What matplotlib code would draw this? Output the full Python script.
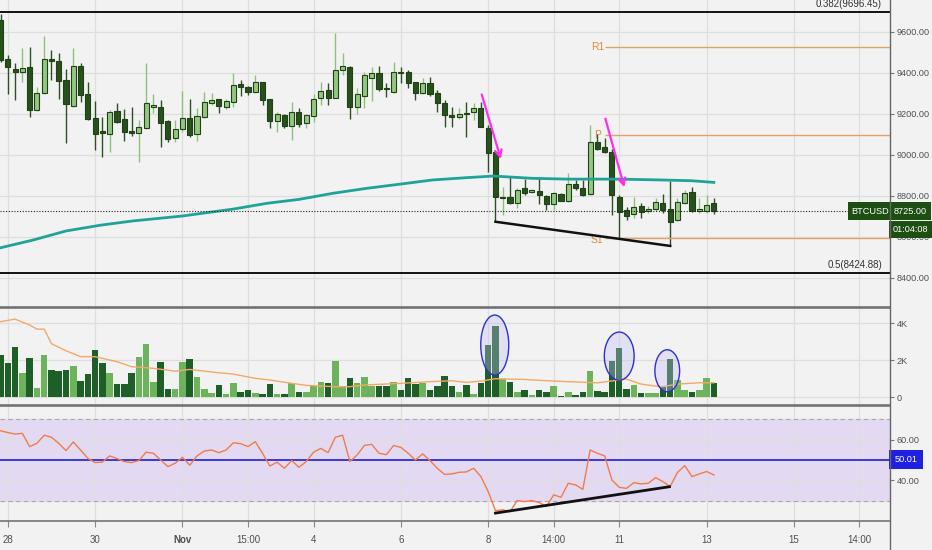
import matplotlib.pyplot as plt
from matplotlib.patches import Ellipse
from matplotlib.lines import Line2D
import numpy as np

plt.rcParams['font.family'] = ['Liberation Sans', 'DejaVu Sans']

# 4h candles, BTCUSD, Oct 27 20:00 .. Nov 13
opens = [9657, 9465, 9419, 9402, 9429, 9218, 9299, 9465, 9459, 9364,
         9238, 9434, 9296, 9180, 9116, 9101, 9215, 9174, 9114, 9107,
         9129, 9234, 9234, 9164, 9080, 9124, 9180, 9099, 9182, 9252,
         9273, 9234, 9259, 9343, 9329, 9307, 9355, 9270, 9166, 9194,
         9140, 9210, 9153, 9190, 9278, 9316, 9278, 9413, 9429, 9231,
         9286, 9373, 9397, 9327, 9307, 9405, 9402, 9355, 9302, 9348,
         9299, 9254, 9194, 9185, 9204, 9210, 9226, 9129, 9015, 8790,
         8795, 8763, 8836, 8818, 8823, 8799, 8760, 8808, 8776, 8857,
         8839, 8807, 9063, 9036, 9015, 8795, 8730, 8709, 8750, 8725,
         8734, 8763, 8734, 8681, 8763, 8820, 8725, 8725, 8763]
highs = [9686, 9486, 9449, 9519, 9524, 9332, 9579, 9511, 9495, 9417,
         9519, 9446, 9353, 9262, 9185, 9218, 9251, 9221, 9231, 9169,
         9446, 9296, 9267, 9169, 9169, 9312, 9270, 9226, 9307, 9299,
         9273, 9270, 9400, 9364, 9335, 9389, 9356, 9273, 9210, 9197,
         9259, 9226, 9197, 9296, 9356, 9351, 9592, 9495, 9433, 9324,
         9405, 9429, 9434, 9348, 9454, 9429, 9413, 9356, 9373, 9380,
         9316, 9267, 9231, 9226, 9259, 9251, 9259, 9145, 9023, 8844,
         8890, 8836, 8881, 8834, 8885, 8803, 8820, 8813, 8909, 8877,
         8877, 9145, 9101, 9080, 9028, 8803, 8746, 8792, 8763, 8750,
         8787, 8808, 8872, 8789, 8828, 8841, 8787, 8803, 8787]
lows = [9452, 9296, 9267, 9356, 9185, 9215, 9296, 9364, 9272, 9056,
        9234, 9259, 9169, 9023, 8990, 9015, 9153, 9068, 9093, 8966,
        9125, 9205, 9039, 9063, 9063, 9112, 9088, 9068, 9178, 9242,
        9205, 9221, 9231, 9286, 9291, 9302, 9242, 9129, 9112, 9129,
        9072, 9137, 9129, 9161, 9242, 9242, 9275, 9389, 9173, 9198,
        9226, 9263, 9312, 9280, 9302, 9348, 9324, 9267, 9296, 9286,
        9210, 9137, 9137, 9174, 9088, 9169, 9134, 8917, 8673, 8706,
        8760, 8739, 8803, 8812, 8760, 8730, 8730, 8774, 8771, 8828,
        8799, 8803, 9023, 9007, 8706, 8592, 8681, 8690, 8690, 8716,
        8727, 8717, 8555, 8678, 8760, 8722, 8716, 8714, 8711]
closes = [9462, 9426, 9402, 9424, 9218, 9299, 9465, 9456, 9361, 9247,
          9434, 9291, 9173, 9101, 9104, 9210, 9161, 9112, 9104, 9134,
          9251, 9242, 9153, 9077, 9124, 9178, 9096, 9189, 9256, 9267,
          9238, 9260, 9339, 9332, 9306, 9353, 9267, 9166, 9199, 9140,
          9210, 9150, 9194, 9273, 9311, 9278, 9413, 9434, 9234, 9296,
          9389, 9397, 9320, 9319, 9402, 9397, 9351, 9299, 9348, 9296,
          9254, 9194, 9185, 9199, 9197, 9226, 9137, 9010, 8795, 8795,
          8763, 8828, 8815, 8828, 8803, 8760, 8815, 8776, 8857, 8836,
          8803, 9060, 9026, 9012, 8803, 8720, 8702, 8743, 8722, 8735,
          8769, 8730, 8670, 8771, 8815, 8727, 8737, 8755, 8725]
volumes = [2290, 1870, 2700, 1330, 2110, 500, 2270, 1490, 1440, 1490,
           1670, 900, 1280, 2560, 1840, 1330, 720, 720, 1330, 2160,
           2880, 850, 1930, 430, 430, 1890, 2050, 1100, 430, 220,
           650, 160, 760, 270, 400, 220, 160, 720, 200, 200,
           760, 270, 270, 610, 830, 770, 1940, 560, 1040, 770,
           1100, 610, 610, 610, 830, 400, 1040, 720, 790, 400,
           610, 1150, 610, 290, 650, 160, 760, 2830, 3870, 970,
           850, 270, 400, 110, 400, 270, 610, 70, 270, 110,
           270, 1440, 320, 270, 1940, 2650, 430, 650, 220, 220,
           220, 540, 2050, 920, 400, 290, 400, 1040, 790]
rsi = [64.4, 63.5, 62.8, 63.1, 56.6, 58.2, 62.2, 61.2, 58.2, 54.6,
       58.9, 54.9, 50.8, 48.7, 49.0, 52.0, 50.7, 49.2, 48.7, 49.7,
       53.8, 53.3, 50.0, 46.7, 48.4, 51.3, 47.4, 52.0, 54.4, 54.9,
       53.6, 54.9, 58.5, 58.0, 56.6, 59.0, 53.3, 47.0, 48.9, 45.9,
       49.7, 46.4, 49.2, 53.8, 55.7, 53.6, 61.2, 62.2, 49.2, 52.5,
       57.2, 57.7, 53.3, 52.6, 57.1, 56.2, 53.3, 50.0, 53.0, 49.7,
       45.9, 42.9, 43.1, 43.9, 44.1, 45.9, 41.8, 34.4, 25.0, 25.4,
       24.5, 30.0, 29.5, 30.0, 29.0, 27.0, 32.8, 31.6, 38.5, 37.7,
       35.5, 54.9, 53.3, 52.0, 40.1, 36.5, 36.0, 38.8, 38.2, 38.5,
       41.3, 39.3, 36.9, 43.8, 47.2, 41.8, 43.1, 44.3, 42.6]

# moving averages (candle index, value)
ma_idx = [0, 4.5, 9, 13.7, 18.2, 25, 32, 36.6, 41, 45.7, 50.3, 55, 59.4, 64, 67.7, 73, 78, 85, 90.6, 95, 98]
ma_price = [8546, 8584, 8628, 8656, 8677, 8701, 8735, 8763, 8782, 8812, 8836, 8857, 8877, 8888, 8896,
            8885, 8881, 8881, 8877, 8873, 8865]
vma_idx = [0, 2, 4, 5, 6, 7, 9, 11, 13, 16, 18, 21, 24, 26, 30, 32, 35, 37, 40, 42, 46, 48, 50,
           55, 59, 62, 64, 66, 68, 70, 72, 75, 78, 82, 85, 86, 88, 90, 91, 93, 96, 98]
vma = [4090, 4230, 3910, 3690, 3690, 2900, 2520, 2200, 2200, 1930, 1660, 1570, 1420, 1510, 1330,
       1260, 1030, 940, 760, 650, 580, 580, 670, 760, 850, 900, 810, 880, 1010, 990, 970, 900,
       850, 790, 940, 990, 720, 610, 580, 720, 790, 790]

tick_idx = [1, 13, 25, 34, 43, 55, 67, 76, 85, 97, 109, 118]
tick_lbl = ['28', '30', 'Nov', '15:00', '4', '6', '8', '14:00', '11', '13', '15', '14:00']

fib_levels = [9696.45, 8424.88]
fib_names = ['0.382(9696.45)', '0.5(8424.88)']
pivot_names = ['R1', 'P', 'S1']
pivot_levels = [9525, 9095, 8595]
last_price = 8725.00
rsi_last = 50.01

BG = '#f2f2f2'
GRID = '#dedede'
UP = '#94c781'
DOWN = '#27501d'
EDGE = '#1f4216'
VUP = '#6cb35c'
VDOWN = '#1e5e27'
LBL = '#505050'
PIV = '#d9893f'
TAG = '#1d4f12'
FS = 6.6

W, H = 932, 550
def box(x0, y0, x1, y1):
    return [x0 / W, 1 - y1 / H, (x1 - x0) / W, (y1 - y0) / H]

fig = plt.figure(figsize=(9.32, 5.5), dpi=100)
fig.patch.set_facecolor(BG)
ax = fig.add_axes(box(0, 0, 890, 307))
axv = fig.add_axes(box(0, 308, 890, 405), sharex=ax)
axr = fig.add_axes(box(0, 406, 890, 521), sharex=ax)

idx = np.arange(len(opens))
o = np.array(opens); c = np.array(closes)
up = c >= o

for a in (ax, axv, axr):
    a.set_facecolor(BG)
    a.set_axisbelow(True)
    a.yaxis.tick_right()
    a.tick_params(axis='y', length=3, color='#777', labelsize=FS, labelcolor=LBL, pad=2)
    a.set_xticks(tick_idx)
    a.grid(True, color=GRID, lw=0.9)
    for s in ('left', 'right'):
        a.spines[s].set_visible(False)
    for s in ('top', 'bottom'):
        a.spines[s].set_color('#6a6a6a')
        a.spines[s].set_linewidth(1.1)
ax.spines['top'].set_visible(False)
for a in (ax, axv):
    a.tick_params(axis='x', bottom=False, labelbottom=False)

ax.set_xlim(-0.07, 122.2)

# price panel
ax.vlines(idx[up], np.array(lows)[up], np.array(highs)[up], color='#8dbf7d', lw=1, zorder=2)
ax.vlines(idx[~up], np.array(lows)[~up], np.array(highs)[~up], color='#2f4f26', lw=1, zorder=2)
body_h = np.abs(c - o)
body_h[body_h < 3] = 3
ax.bar(idx, body_h, bottom=np.minimum(o, c), width=0.7,
       color=np.where(up, UP, DOWN), edgecolor=EDGE, linewidth=0.8, zorder=3)
ax.plot(ma_idx, ma_price, color='#1fa398', lw=2, zorder=4)

ax.set_ylim(8257, 9755)
ax.set_yticks(np.arange(8400, 9601, 200))
ax.set_yticklabels([f'{v:.2f}' for v in np.arange(8400, 9601, 200)])

for lev, name in zip(fib_levels, fib_names):
    ax.axhline(lev, color='#111', lw=1.4, zorder=5)
    ax.annotate(name, xy=(121.1, lev), xytext=(0, 2), textcoords='offset points',
                ha='right', va='bottom', fontsize=7, color='#333')

for name, lev in zip(pivot_names, pivot_levels):
    ax.hlines(lev, 83, 122.2, color='#e0a26a', lw=1, zorder=4)
    ax.text(82, lev - (12 if name == 'S1' else 0), name, ha='center', va='center',
            fontsize=7.5, color=PIV, zorder=4)

ax.hlines(last_price, -0.07, 117, color='#222', lw=0.8, linestyles=(0, (1, 1.5)), zorder=4)

# trendline on lows
ax.plot([68, 92], [lows[68], lows[92]], color='#111', lw=1.8, zorder=5)

# magenta arrows
arrows = [((66, 9307), (68.85, 8966)), ((83, 9189), (85.8, 8828))]
for start, tip in arrows:
    ax.annotate('', xy=tip, xytext=start,
                arrowprops=dict(arrowstyle='->', color='#ff2ee8', lw=1.6, mutation_scale=12),
                zorder=6)

ytr = ax.get_yaxis_transform()
ax.text(870.5 / 890, last_price, 'BTCUSD', transform=ytr, ha='center', va='center', fontsize=FS,
        color='white', zorder=7, bbox=dict(boxstyle='square,pad=0.45', fc=TAG, ec='none'))
ax.text(910.5 / 890, last_price, f'{last_price:.2f}', transform=ytr, ha='center', va='center',
        fontsize=FS, color='white', zorder=7, clip_on=False,
        bbox=dict(boxstyle='square,pad=0.45', fc=TAG, ec='none'))
ax.text(910.5 / 890, 8635, '01:04:08', transform=ytr, ha='center', va='center',
        fontsize=FS, color='white', zorder=7, clip_on=False,
        bbox=dict(boxstyle='square,pad=0.45', fc=TAG, ec='none'))

# volume panel
axv.bar(idx, volumes, width=0.9, color=np.where(up, VUP, VDOWN), zorder=2)
axv.plot(vma_idx, vma, color='#f4a868', lw=1, zorder=3)
axv.set_ylim(-410, 4830)
axv.set_yticks([0, 2000, 4000])
axv.set_yticklabels(['0', '2K', '4K'])
circles = [(67.9, 2830, 3.85, 3240), (85.0, 2230, 4.1, 2600), (91.6, 1440, 3.4, 2270)]
for cx, cy, w, h in circles:
    axv.add_patch(Ellipse((cx, cy), w, h, fc=(0.75, 0.75, 0.95, 0.35), ec='#2f2fcf', lw=1, zorder=4))

# rsi panel
axr.axhspan(30, 70, color='#e4d9f2', zorder=0)
axr.axhline(70, color='#a8a8a8', lw=0.8, ls=(0, (4, 3)), zorder=1)
axr.axhline(30, color='#a8a8a8', lw=0.8, ls=(0, (4, 3)), zorder=1)
axr.axhline(rsi_last, color='#1f1fc8', lw=1.2, zorder=2)
axr.plot(idx, rsi, color='#f07c4c', lw=1, zorder=3)
axr.plot([68, 91.9], [23.8, 36.8], color='#111', lw=2, zorder=4)
axr.set_ylim(19.9, 76.6)
axr.set_yticks([40, 60])
axr.set_yticklabels(['40.00', '60.00'])
axr.text(906 / 890, rsi_last, f'{rsi_last:.2f}', transform=axr.get_yaxis_transform(), ha='center',
         va='center', fontsize=FS, color='white', zorder=7, clip_on=False,
         bbox=dict(boxstyle='square,pad=0.55', fc='#2020e0', ec='none'))

axr.set_xticklabels(tick_lbl)
axr.tick_params(axis='x', length=4, color='#888', labelsize=7, labelcolor=LBL, pad=6)
axr.get_xticklabels()[2].set_fontweight('bold')

fig.add_artist(Line2D([890 / W, 890 / W], [0, 1], color='#666', lw=1))

plt.savefig('out.png', dpi=100, facecolor=BG)
